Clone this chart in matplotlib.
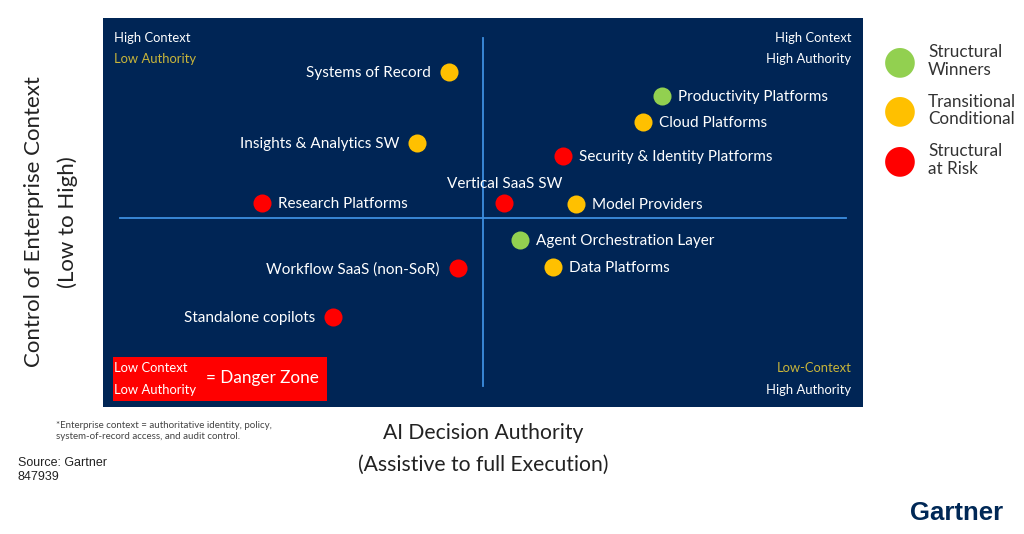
import matplotlib.pyplot as plt
from matplotlib.patches import Rectangle

# segment scores (0-10 on both axes)
names = ["Systems of Record", "Insights & Analytics SW", "Research Platforms",
         "Vertical SaaS SW", "Model Providers", "Productivity Platforms",
         "Cloud Platforms", "Security & Identity Platforms",
         "Agent Orchestration Layer", "Data Platforms",
         "Workflow SaaS (non-SoR)", "Standalone copilots"]
authority = [4.55, 4.13, 2.09, 5.28, 6.22, 7.36, 7.11, 6.05, 5.49, 5.92, 4.67, 3.03]
context = [8.61, 6.79, 5.24, 5.24, 5.22, 7.99, 7.33, 6.45, 4.29, 3.60, 3.57, 2.31]
category = ["Transitional", "Transitional", "At Risk", "At Risk", "Transitional",
            "Winners", "Transitional", "At Risk", "Winners", "Transitional",
            "At Risk", "At Risk"]
label_side = ["left", "left", "right", "above", "right", "right", "right", "right",
              "right", "right", "left", "left"]

legend_keys = ["Winners", "Transitional", "At Risk"]
legend_text = ["Structural\nWinners", "Transitional\nConditional", "Structural\nat Risk"]

colors = {"Winners": "#92D050", "Transitional": "#FFC000", "At Risk": "#FF0000"}
navy = "#002555"
cross = "#3D8FE0"
font = ["Lato", "DejaVu Sans"]

W, H = 1024, 534
fig = plt.figure(figsize=(W / 100, H / 100), dpi=100)
fig.patch.set_facecolor("white")

ax = fig.add_axes([103 / W, (H - 407) / H, 760 / W, 389 / H])
ax.set_facecolor(navy)
ax.set_xlim(0, 10)
ax.set_ylim(0, 10)
ax.set_xticks([])
ax.set_yticks([])
for s in ax.spines.values():
    s.set_visible(False)

# crosshair
ax.plot([5.0, 5.0], [0.54, 9.49], color=cross, lw=1.3)
ax.plot([0.22, 9.78], [4.86, 4.86], color=cross, lw=1.3)

for n, x, y, c, side in zip(names, authority, context, category, label_side):
    ax.plot(x, y, "o", ms=13, color=colors[c], mec="none", zorder=3)
    if side == "left":
        off, ha, va = (-18, -1), "right", "center"
    elif side == "right":
        off, ha, va = (16, -1), "left", "center"
    else:
        off, ha, va = (0, 19), "center", "center"
    ax.annotate(n, (x, y), xytext=off, textcoords="offset pixels", ha=ha, va=va,
                color="white", fontsize=11, family=font)

# corner captions
yel = "#C9B53A"
small = 9.4
ax.text(0.015, 0.948, "High Context", transform=ax.transAxes, color="white",
        fontsize=small, family=font, va="center")
ax.text(0.015, 0.894, "Low Authority", transform=ax.transAxes, color=yel,
        fontsize=small, family=font, va="center")
ax.text(0.985, 0.948, "High Context", transform=ax.transAxes, color="white",
        fontsize=small, family=font, va="center", ha="right")
ax.text(0.985, 0.894, "High Authority", transform=ax.transAxes, color="white",
        fontsize=small, family=font, va="center", ha="right")
ax.text(0.985, 0.10, "Low-Context", transform=ax.transAxes, color=yel,
        fontsize=small, family=font, va="center", ha="right")
ax.text(0.985, 0.044, "High Authority", transform=ax.transAxes, color="white",
        fontsize=small, family=font, va="center", ha="right")

# danger zone box
ax.add_patch(Rectangle((10 / 760, 6 / 389), 214 / 760, 44 / 389, transform=ax.transAxes,
                       facecolor="#FF0000", edgecolor="none", zorder=2))
ax.text(0.015, 0.10, "Low Context", transform=ax.transAxes, color="white",
        fontsize=small, family=font, va="center", zorder=4)
ax.text(0.015, 0.044, "Low Authority", transform=ax.transAxes, color="white",
        fontsize=small, family=font, va="center", zorder=4)
ax.text(103 / 760, 0.074, "= Danger Zone", transform=ax.transAxes, color="white",
        fontsize=12.3, family=font, va="center", zorder=4)

# axis titles
fig.text(51 / W, 1 - 222 / H, "Control of Enterprise Context\n(Low to High)",
         rotation=90, ha="center", va="center", fontsize=16, color="#222222",
         family=font, linespacing=1.75)
fig.text(483 / W, 1 - 433 / H, "AI Decision Authority", ha="center", va="center",
         fontsize=15.2, color="#222222", family=font)
fig.text(483 / W, 1 - 465 / H, "(Assistive to full Execution)", ha="center", va="center",
         fontsize=15.2, color="#222222", family=font)

# legend
for i, (k, t) in enumerate(zip(legend_keys, legend_text)):
    yy = 1 - (61 + 49.5 * i) / H
    fig.text(900 / W, yy, "\u25cf", color=colors[k], fontsize=28, ha="center",
             va="center", family="DejaVu Sans")
    fig.text(928 / W, yy, t, color="#333333", fontsize=12.3, ha="left", va="center",
             family=font, linespacing=1.1)

# notes
fig.text(56 / W, 1 - 431 / H,
         "*Enterprise context = authoritative identity, policy,\nsystem-of-record access, and audit control.",
         fontsize=7, color="#444444", family=font, va="center", linespacing=1.15)
fig.text(18 / W, 1 - 470 / H, "Source: Gartner\n847939", fontsize=9, color="#222222",
         family="Liberation Sans", va="center", linespacing=1.15)
fig.text(1003 / W, 1 - 513 / H, "Gartner", fontsize=18.5, color="#002856",
         family="Liberation Sans", weight="bold", ha="right", va="center")

fig.savefig("out.png", dpi=100, facecolor="white")
